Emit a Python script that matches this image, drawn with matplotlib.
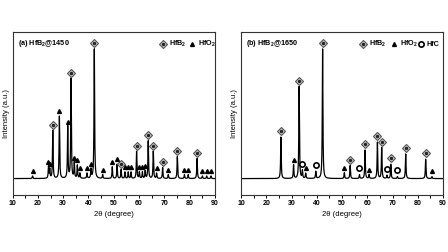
import numpy as np
import matplotlib.pyplot as plt

plt.rcParams['font.family'] = ['Liberation Sans', 'DejaVu Sans']
plt.rcParams['font.weight'] = 'bold'
plt.rcParams['mathtext.fontset'] = 'custom'
plt.rcParams['mathtext.rm'] = 'Liberation Sans:bold'
plt.rcParams['mathtext.bf'] = 'Liberation Sans:bold'
plt.rcParams['mathtext.default'] = 'rm'

# (a) HfB2@1450 : peak positions (2theta) and relative heights
a_hfb2_pos = [25.9, 33.1, 42.3, 52.9, 59.0, 63.6, 65.6, 69.3, 75.1, 82.9]
a_hfb2_h = [37, 77, 100, 7, 21, 29, 21, 8.5, 17, 15.5]
a_hfo2_pos = [17.9, 24.2, 24.7, 28.5, 31.8, 34.4, 35.6, 36.6, 39.4, 41.0,
              45.6, 49.4, 51.3, 54.4, 55.7, 56.8, 60.1, 61.3, 62.4,
              66.9, 71.5, 77.9, 79.4, 85.0, 86.7, 88.4]
a_hfo2_h = [2, 9, 7, 48, 40, 12, 10, 4, 4, 7,
            3, 9, 11, 5, 5, 5, 5, 5, 6,
            4, 3, 3, 3, 2, 2, 2]

# (b) HfB2@1650
b_hfb2_pos = [25.8, 33.0, 42.3, 53.2, 59.1, 64.0, 65.7, 69.3, 75.2, 83.1]
b_hfb2_h = [32, 71, 100, 10, 22, 28, 24, 11, 19, 15]
b_hfo2_pos = [30.8, 35.6, 50.9, 60.7, 85.6]
b_hfo2_h = [10.5, 4, 4.5, 3, 1.5]
b_hfc_pos = [34.3, 39.6, 56.9, 67.8, 71.9]
b_hfc_h = [6, 5.5, 3, 2.5, 1.5]

xticks = [10, 20, 30, 40, 50, 60, 70, 80, 90]

twotheta = np.arange(10, 90.001, 0.01)


def pattern(pos, h, gamma=0.14):
    y = np.zeros_like(twotheta)
    for p, v in zip(pos, h):
        y += v * gamma ** 2 / ((twotheta - p) ** 2 + gamma ** 2)
    return y


def diamond(ax, pos, h, off):
    y = np.array(h) + off
    ax.plot(pos, y, 'D', ms=4.0, mfc='#c8c8c8', mec='#555555', mew=0.8, ls='none')
    ax.plot(pos, y, 'o', ms=1.4, mfc='#222222', mec='#222222', ls='none')


def triangle(ax, pos, h, off):
    ax.plot(pos, np.array(h) + off, '^', ms=2.8, color='black', ls='none')


def circle(ax, pos, h, off):
    ax.plot(pos, np.array(h) + off, 'o', ms=3.8, mfc='white', mec='black', mew=1.2, ls='none')


fig = plt.figure(figsize=(4.48, 2.52), dpi=100)
ax1 = fig.add_axes([0.028, 0.226, 0.452, 0.647])
ax2 = fig.add_axes([0.538, 0.226, 0.451, 0.647])

# panel (a)
ya = pattern(a_hfb2_pos + a_hfo2_pos, a_hfb2_h + a_hfo2_h)
ax1.plot(twotheta, ya, color='black', lw=0.9)
diamond(ax1, a_hfb2_pos, a_hfb2_h, 4.5)
triangle(ax1, a_hfo2_pos, a_hfo2_h, 4.0)
ax1.text(0.025, 0.965, '(a) HfB$_2$@1450', transform=ax1.transAxes, fontsize=5.2, va='top')

# panel (b)
yb = pattern(b_hfb2_pos + b_hfo2_pos + b_hfc_pos, b_hfb2_h + b_hfo2_h + b_hfc_h)
ax2.plot(twotheta, yb, color='black', lw=0.9)
diamond(ax2, b_hfb2_pos, b_hfb2_h, 4.5)
triangle(ax2, b_hfo2_pos, b_hfo2_h, 4.0)
circle(ax2, b_hfc_pos, b_hfc_h, 5.0)
ax2.text(0.025, 0.965, '(b) HfB$_2$@1650', transform=ax2.transAxes, fontsize=5.2, va='top')

# legends drawn by hand
def legend_item(ax, x, kind, label):
    y = 0.925
    if kind == 'D':
        ax.plot([x], [y], 'D', ms=4.0, mfc='#c8c8c8', mec='#555555', mew=0.8, transform=ax.transAxes, clip_on=False)
        ax.plot([x], [y], 'o', ms=1.4, color='#222222', transform=ax.transAxes, clip_on=False)
    elif kind == '^':
        ax.plot([x], [y], '^', ms=2.8, color='black', transform=ax.transAxes, clip_on=False)
    else:
        ax.plot([x], [y], 'o', ms=3.8, mfc='white', mec='black', mew=1.2, transform=ax.transAxes, clip_on=False)
    ax.text(x + 0.03, y, label, transform=ax.transAxes, fontsize=5.2, va='center')

legend_item(ax1, 0.745, 'D', 'HfB$_2$')
legend_item(ax1, 0.885, '^', 'HfO$_2$')
legend_item(ax2, 0.605, 'D', 'HfB$_2$')
legend_item(ax2, 0.755, '^', 'HfO$_2$')
legend_item(ax2, 0.89, 'o', 'HfC')

for ax in (ax1, ax2):
    ax.set_xlim(10, 90)
    ax.set_ylim(-12.7, 113.1)
    ax.set_yticks([])
    ax.set_xticks(xticks)
    ax.set_xticks(np.arange(15, 90, 10), minor=True)
    ax.tick_params(axis='x', which='both', direction='out', length=2.2, width=0.7,
                   labelsize=5, pad=1.5)
    ax.set_xlabel('2\u03b8 (degree)', fontsize=5.5, labelpad=3)
    ax.set_ylabel('Intensity (a.u.)', fontsize=5.5, labelpad=2)
    for s in ax.spines.values():
        s.set_linewidth(0.8)
        s.set_color('#333333')

fig.savefig('out.png', dpi=100)
